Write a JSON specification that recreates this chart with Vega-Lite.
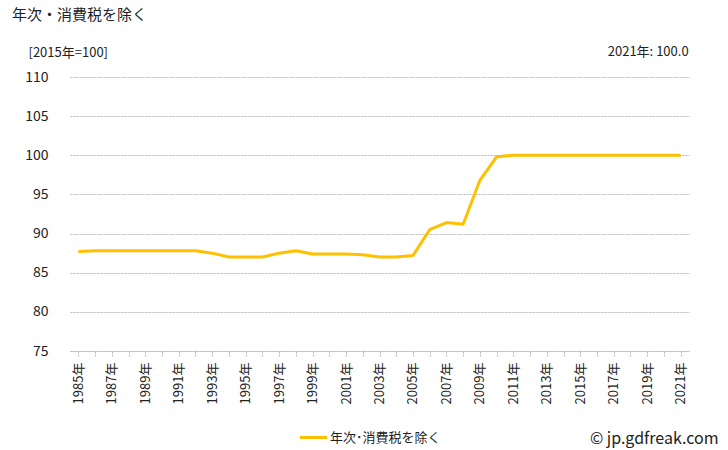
{
  "$schema": "https://vega.github.io/schema/vega-lite/v6.json",
  "autosize": "none",
  "width": 619,
  "height": 274,
  "padding": {"left": 70, "top": 77, "right": 39, "bottom": 99},
  "background": "white",
  "config": {
    "font": "Noto Sans CJK JP",
    "view": {"stroke": null},
    "axis": {"labelColor": "#222", "titleColor": "#222", "labelFont": "Noto Sans CJK JP", "titleFont": "Noto Sans CJK JP"},
    "axisY": {"labelOverlap": false, "tickCount": 8}
  },
  "title": {
    "text": "年次・消費税を除く",
    "anchor": "start",
    "frame": "group",
    "fontSize": 15,
    "fontWeight": "normal",
    "color": "#222",
    "dx": -58,
    "offset": 23
  },
  "data": {
    "values": [
      {"year": "1985", "value": 87.7},
      {"year": "1986", "value": 87.8},
      {"year": "1987", "value": 87.8},
      {"year": "1988", "value": 87.8},
      {"year": "1989", "value": 87.8},
      {"year": "1990", "value": 87.8},
      {"year": "1991", "value": 87.8},
      {"year": "1992", "value": 87.8},
      {"year": "1993", "value": 87.5},
      {"year": "1994", "value": 87.0},
      {"year": "1995", "value": 87.0},
      {"year": "1996", "value": 87.0},
      {"year": "1997", "value": 87.5},
      {"year": "1998", "value": 87.8},
      {"year": "1999", "value": 87.4},
      {"year": "2000", "value": 87.4},
      {"year": "2001", "value": 87.4},
      {"year": "2002", "value": 87.3},
      {"year": "2003", "value": 87.0},
      {"year": "2004", "value": 87.0},
      {"year": "2005", "value": 87.2},
      {"year": "2006", "value": 90.5},
      {"year": "2007", "value": 91.4},
      {"year": "2008", "value": 91.2},
      {"year": "2009", "value": 96.8},
      {"year": "2010", "value": 99.8},
      {"year": "2011", "value": 100.0},
      {"year": "2012", "value": 100.0},
      {"year": "2013", "value": 100.0},
      {"year": "2014", "value": 100.0},
      {"year": "2015", "value": 100.0},
      {"year": "2016", "value": 100.0},
      {"year": "2017", "value": 100.0},
      {"year": "2018", "value": 100.0},
      {"year": "2019", "value": 100.0},
      {"year": "2020", "value": 100.0},
      {"year": "2021", "value": 100.0}
    ]
  },
  "layer": [
    {
      "mark": {"type": "line", "strokeWidth": 3, "strokeJoin": "round"},
      "encoding": {
        "x": {
          "field": "year",
          "type": "ordinal",
          "scale": {"type": "point", "padding": 0.5},
          "axis": {
            "title": "© jp.gdfreak.com",
            "titleFontSize": 16,
            "titleFontWeight": "normal",
            "titleAlign": "right",
            "titleBaseline": "alphabetic",
            "titleX": 648,
            "titleY": 92,
            "labelAngle": -90,
            "labelFontSize": 13,
            "labelPadding": 6,
            "labelOverlap": false,
            "labelExpr": "parseInt(datum.value) % 2 == 1 ? datum.value + '年' : ''",
            "domainColor": "#bbb",
            "domainDash": [2, 1],
            "tickColor": "#bbb",
            "tickDash": [2, 1],
            "tickSize": 5,
            "grid": false
          }
        },
        "y": {
          "field": "value",
          "type": "quantitative",
          "scale": {"domain": [75, 110], "nice": false, "zero": false},
          "axis": {
            "tickCount": 8,
            "labelOverlap": false,
            "title": "[2015年=100]",
            "titleAngle": 0,
            "titleAlign": "left",
            "titleBaseline": "alphabetic",
            "titleFontSize": 13,
            "titleFontWeight": "normal",
            "titleX": -42,
            "titleY": -21,
            "labelFontSize": 14,
            "labelPadding": 22,
            "domain": false,
            "ticks": false,
            "grid": true,
            "gridColor": "#bbb",
            "gridDash": [2, 1]
          }
        },
        "color": {
          "datum": "年次･消費税を除く",
          "scale": {"range": ["#FFC000"]},
          "legend": {
            "title": null,
            "orient": "none",
            "legendX": 228,
            "legendY": 345,
            "symbolType": "stroke",
            "symbolSize": 750,
            "symbolStrokeWidth": 3,
            "labelFontSize": 13,
            "labelColor": "#222",
            "labelOffset": 1
          }
        }
      }
    },
    {
      "transform": [
        {"filter": "datum.year == '2021'"},
        {"calculate": "datum.year + '年: ' + format(datum.value, '.1f')", "as": "label"}
      ],
      "mark": {"type": "text", "align": "right", "baseline": "alphabetic", "dx": 8, "dy": -21, "fontSize": 13, "color": "#222"},
      "encoding": {
        "x": {"field": "year", "type": "ordinal"},
        "y": {"datum": 110, "type": "quantitative"},
        "text": {"field": "label"}
      }
    }
  ]
}
